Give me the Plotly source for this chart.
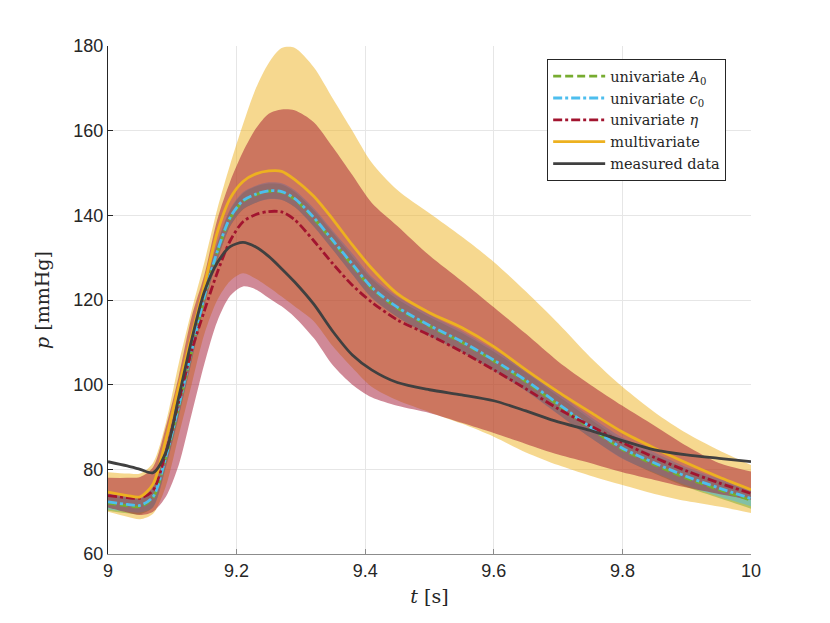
import plotly.graph_objects as go

# ---------------- data ----------------
t = [9.00, 9.03, 9.05, 9.07, 9.09, 9.11, 9.13, 9.15, 9.17, 9.19, 9.21, 9.23, 9.25, 9.27, 9.29,
     9.32, 9.35, 9.38, 9.41, 9.45, 9.50, 9.55, 9.60, 9.65, 9.70, 9.75, 9.80, 9.85, 9.90, 9.95, 10.00]

measured = [81.8, 80.8, 80.0, 79.2, 84.0, 97.0, 110.5, 122.0, 128.8, 132.6, 133.6, 132.5, 130.3, 127.4, 124.3,
            119.0, 112.5, 107.0, 103.5, 100.5, 98.8, 97.6, 96.2, 93.8, 91.2, 89.2, 86.8, 84.6, 83.4, 82.6, 81.8]

multi = [74.6, 73.8, 73.5, 76.5, 87.0, 99.5, 111.5, 123.5, 136.0, 144.0, 148.0, 149.8, 150.5, 150.4, 148.5,
         144.5, 139.0, 133.0, 127.5, 121.5, 117.0, 113.5, 109.0, 103.5, 98.3, 93.5, 88.8, 85.0, 81.5, 78.2, 75.2]
multi_hi = [79.3, 79.0, 79.0, 81.5, 91.0, 105.0, 117.5, 129.0, 141.5, 152.0, 161.5, 170.0, 176.0, 179.5, 179.6,
            175.0, 167.5, 160.0, 152.5, 146.0, 140.5, 135.0, 129.0, 122.0, 114.5, 106.5, 99.5, 93.5, 88.5, 84.5, 81.0]
multi_lo = [70.0, 68.8, 68.2, 69.5, 76.0, 88.0, 100.0, 112.0, 120.0, 124.5, 126.3, 125.0, 123.0, 120.8, 118.5,
            115.0, 109.0, 104.0, 99.5, 96.3, 93.5, 90.8, 87.7, 84.0, 81.0, 78.5, 76.3, 74.2, 72.5, 71.2, 69.7]

eta = [73.8, 73.3, 73.2, 75.0, 84.0, 96.0, 108.0, 117.5, 126.5, 134.0, 138.5, 140.2, 140.9, 140.8, 139.0,
       134.0, 128.5, 123.5, 119.5, 115.3, 111.7, 107.8, 103.5, 99.0, 94.3, 90.3, 86.3, 82.8, 79.6, 76.8, 74.3]
eta_hi = [78.0, 78.0, 78.2, 80.5, 90.0, 102.0, 116.0, 126.0, 139.0, 148.0, 155.0, 160.5, 164.0, 165.0, 164.8,
          162.0, 156.0, 149.5, 143.0, 137.5, 130.5, 124.5, 118.3, 112.0, 105.5, 100.0, 95.0, 90.3, 85.5, 81.5, 79.5]
eta_lo = [71.0, 69.8, 69.2, 70.0, 73.5, 81.0, 93.0, 105.0, 115.0, 121.0, 123.2, 122.5, 120.5, 118.5, 116.0,
          111.0, 104.5, 100.0, 97.0, 95.0, 93.3, 91.0, 88.6, 86.0, 83.5, 81.5, 79.3, 77.5, 75.7, 74.2, 72.8]

c0 = [72.3, 71.7, 71.5, 73.5, 83.0, 95.0, 108.0, 121.0, 131.5, 139.5, 143.5, 145.0, 145.8, 145.6, 144.0,
      139.5, 134.0, 128.5, 123.0, 118.3, 114.0, 110.2, 105.8, 101.0, 95.5, 90.0, 85.0, 81.5, 78.3, 75.6, 73.1]
c0_hi = [74.3, 73.7, 73.5, 76.0, 85.5, 97.5, 110.5, 123.0, 133.5, 141.5, 145.5, 147.0, 147.8, 147.6, 146.0,
         141.7, 136.3, 131.0, 125.5, 120.8, 116.5, 112.7, 108.3, 103.5, 98.0, 92.5, 87.5, 84.0, 80.5, 77.8, 75.2]
c0_lo = [70.5, 70.0, 69.8, 71.0, 80.5, 92.5, 105.5, 119.0, 129.5, 137.5, 141.5, 143.0, 143.8, 143.6, 142.0,
         137.3, 131.8, 126.0, 120.5, 116.0, 111.5, 107.8, 103.3, 98.5, 93.0, 87.5, 82.5, 79.2, 76.2, 73.6, 71.3]

a0 = [72.0, 71.4, 71.2, 73.3, 82.8, 94.8, 107.8, 120.8, 131.3, 139.3, 143.3, 144.9, 145.7, 145.5, 143.8,
      139.3, 133.8, 128.2, 122.8, 118.1, 113.8, 110.0, 105.6, 100.7, 95.2, 89.7, 84.7, 81.1, 77.9, 75.2, 72.7]
a0_hi = [73.8, 73.2, 73.0, 75.5, 85.0, 97.0, 110.0, 122.8, 133.2, 141.2, 145.2, 146.8, 147.5, 147.3, 145.6,
         141.2, 135.8, 130.3, 125.0, 120.2, 116.0, 112.2, 107.8, 102.8, 97.3, 91.9, 86.8, 83.3, 80.0, 77.3, 74.8]
a0_lo = [70.2, 69.6, 69.4, 71.1, 80.6, 92.6, 105.5, 118.8, 129.4, 137.4, 141.4, 143.0, 143.9, 143.7, 142.0,
         137.4, 131.8, 126.1, 120.6, 116.0, 111.6, 107.8, 103.4, 98.6, 93.1, 87.5, 82.6, 79.0, 75.8, 73.2, 70.7]

x_ticks = [9, 9.2, 9.4, 9.6, 9.8, 10]
x_tick_text = ["9", "9.2", "9.4", "9.6", "9.8", "10"]
y_ticks = [60, 80, 100, 120, 140, 160, 180]

# ---------------- styles ----------------
GREEN = "#77AC30"
BLUE = "#4DBEEE"
RED = "#A2142F"
YELLOW = "#EDB120"
GRAY = "#404040"

fig = go.Figure()


def band(hi, lo, rgba):
    fig.add_trace(go.Scatter(x=t, y=hi, mode="lines", line=dict(width=0, shape="spline", smoothing=0.8),
                             showlegend=False, hoverinfo="skip"))
    fig.add_trace(go.Scatter(x=t, y=lo, mode="lines", line=dict(width=0, shape="spline", smoothing=0.8),
                             fill="tonexty", fillcolor=rgba, showlegend=False, hoverinfo="skip"))


band(multi_hi, multi_lo, "rgba(237,177,32,0.5)")
band(a0_hi, a0_lo, "rgba(119,172,48,0.5)")
band(c0_hi, c0_lo, "rgba(77,190,238,0.5)")
band(eta_hi, eta_lo, "rgba(162,20,47,0.5)")

LW = 2.8
fig.add_trace(go.Scatter(x=t, y=a0, mode="lines", name="univariate <i>A</i><sub>0</sub>",
                         line=dict(color=GREEN, width=LW, dash="8px,4px", shape="spline", smoothing=0.8)))
fig.add_trace(go.Scatter(x=t, y=c0, mode="lines", name="univariate <i>c</i><sub>0</sub>",
                         line=dict(color=BLUE, width=LW, dash="9px,3px,3px,3px", shape="spline", smoothing=0.8)))
fig.add_trace(go.Scatter(x=t, y=eta, mode="lines", name="univariate <i>η</i>",
                         line=dict(color=RED, width=LW, dash="9px,3px,3px,3px", shape="spline", smoothing=0.8)))
fig.add_trace(go.Scatter(x=t, y=multi, mode="lines", name="multivariate",
                         line=dict(color=YELLOW, width=LW, shape="spline", smoothing=0.8)))
fig.add_trace(go.Scatter(x=t, y=measured, mode="lines", name="measured data",
                         line=dict(color=GRAY, width=LW, shape="spline", smoothing=0.8)))

SERIF = "DejaVu Serif"
SANS = "Liberation Sans"

fig.update_layout(
    width=830, height=623,
    margin=dict(l=100, r=87, t=38, b=77),
    paper_bgcolor="white", plot_bgcolor="white",
    font=dict(family=SANS, size=18, color="#262626"),
    legend=dict(
        x=0.683, y=0.974, xanchor="left", yanchor="top",
        bgcolor="white", bordercolor="#262626", borderwidth=1,
        font=dict(family=SERIF, size=14.5, color="#262626"),
        tracegroupgap=0, itemwidth=52, traceorder="normal",
    ),
    xaxis=dict(
        range=[9, 10], tickvals=x_ticks, ticktext=x_tick_text,
        showgrid=True, gridcolor="#e6e6e6", gridwidth=1,
        showline=True, linecolor="#8c8c8c", linewidth=1,
        ticks="inside", ticklen=5, tickcolor="#8c8c8c",
        zeroline=False,
        tickfont=dict(family=SANS, size=18, color="#262626"),
        title=dict(text="<i>t</i> [s]", font=dict(family=SERIF, size=19, color="#262626"), standoff=10),
    ),
    yaxis=dict(
        range=[60, 180], tickvals=y_ticks,
        showgrid=True, gridcolor="#e6e6e6", gridwidth=1,
        showline=True, linecolor="#262626", linewidth=1,
        ticks="inside", ticklen=5, tickcolor="#262626",
        zeroline=False,
        tickfont=dict(family=SANS, size=18, color="#262626"),
        title=dict(text="<i>p</i> [mmHg]", font=dict(family=SERIF, size=19, color="#262626"), standoff=18),
    ),
)

fig.write_html("out.html")
